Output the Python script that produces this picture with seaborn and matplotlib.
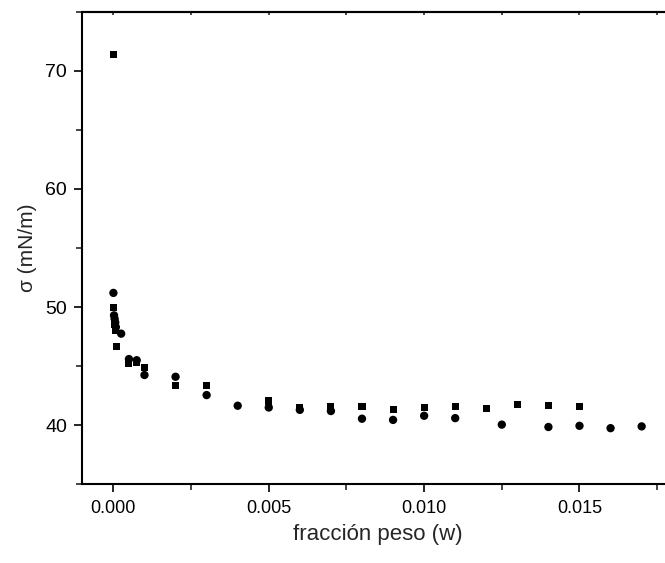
import matplotlib
matplotlib.use("Agg")
import matplotlib.pyplot as plt
from matplotlib.ticker import MultipleLocator
import pandas as pd
import seaborn as sns

# serie 1 (cuadrados)
w_sq = [0.0, 0.0, 0.00005, 0.00008, 0.0001, 0.0005, 0.00075, 0.001, 0.002, 0.003,
        0.005, 0.006, 0.007, 0.008, 0.009, 0.010, 0.011, 0.012, 0.013, 0.014, 0.015]
s_sq = [71.4, 49.95, 48.5, 48.0, 46.7, 45.2, 45.35, 44.9, 43.4, 43.4,
        42.05, 41.5, 41.55, 41.6, 41.3, 41.5, 41.55, 41.45, 41.75, 41.65, 41.55]

# serie 2 (circulos)
w_ci = [0.0, 0.00002, 0.00004, 0.00006, 0.00008, 0.00025, 0.0005, 0.00075, 0.001, 0.002,
        0.003, 0.004, 0.005, 0.006, 0.007, 0.008, 0.009, 0.010, 0.011, 0.0125,
        0.014, 0.015, 0.016, 0.017]
s_ci = [51.2, 49.3, 49.0, 48.7, 48.3, 47.75, 45.6, 45.5, 44.25, 44.1,
        42.55, 41.65, 41.5, 41.3, 41.2, 40.55, 40.45, 40.8, 40.6, 40.05,
        39.85, 39.95, 39.75, 39.9]

df_sq = pd.DataFrame({'w': w_sq, 'sigma': s_sq})
df_ci = pd.DataFrame({'w': w_ci, 'sigma': s_ci})

sns.set_style('ticks')
plt.rcParams['font.family'] = ['Liberation Sans', 'DejaVu Sans']

fig = plt.figure(figsize=(6.65, 5.63), dpi=100)
ax = fig.add_axes([0.1238, 0.1398, 0.8878, 0.8394])

sns.scatterplot(data=df_sq, x='w', y='sigma', marker='s', s=26,
                color='black', edgecolor='none', ax=ax, legend=False)
sns.scatterplot(data=df_ci, x='w', y='sigma', marker='o', s=36,
                color='black', edgecolor='none', ax=ax, legend=False)

ax.set_xlim(-0.001, 0.018)
ax.set_ylim(35, 75)
ax.xaxis.set_minor_locator(MultipleLocator(0.0025))
ax.yaxis.set_minor_locator(MultipleLocator(5))
ax.set_xticks([0.0, 0.005, 0.010, 0.015])
ax.set_xticklabels(['0.000', '0.005', '0.010', '0.015'])
ax.set_yticks([40, 50, 60, 70])

for sp in ['left', 'bottom', 'top']:
    ax.spines[sp].set_linewidth(1.5)
    ax.spines[sp].set_color('black')
ax.spines['right'].set_visible(False)

ax.tick_params(axis='both', which='major', direction='out', length=6, width=1.2,
               labelsize=13, colors='black', pad=5)
ax.tick_params(axis='y', which='major', labelsize=14)
ax.tick_params(axis='both', which='minor', direction='out', length=4, width=1.2)

# marcas pequeñas hacia dentro en el borde superior
top = ax.secondary_xaxis('top')
top.set_xticks([0.0, 0.005, 0.010, 0.015])
top.xaxis.set_minor_locator(MultipleLocator(0.0025))
top.tick_params(which='both', direction='in', length=2.5, width=1.2, labeltop=False)
top.spines['top'].set_linewidth(1.5)

ax.set_xlabel('fracción peso (w)', fontsize=16, labelpad=5)
ax.set_ylabel('σ (mN/m)', fontsize=15, labelpad=6)

fig.savefig('out.png', dpi=100)
